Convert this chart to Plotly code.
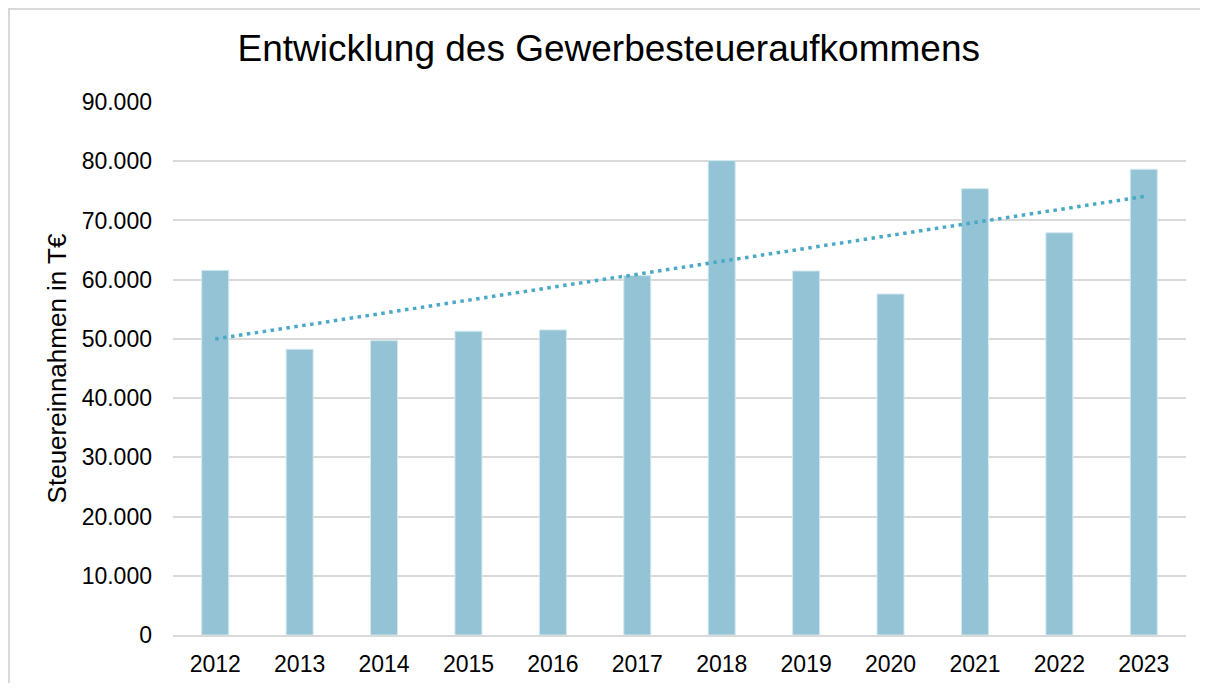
import numpy as np
import plotly.graph_objects as go

years = ["2012", "2013", "2014", "2015", "2016", "2017", "2018", "2019", "2020", "2021", "2022", "2023"]
revenue = [61570, 48260, 49710, 51300, 51520, 60680, 80100, 61470, 57580, 75370, 67920, 78650]
y_ticks = [0, 10000, 20000, 30000, 40000, 50000, 60000, 70000, 80000, 90000]
y_tick_labels = ["0", "10.000", "20.000", "30.000", "40.000", "50.000", "60.000", "70.000", "80.000", "90.000"]

# linear trendline (least squares, as in the spreadsheet trendline)
xi = np.arange(1, len(revenue) + 1)
slope, intercept = np.polyfit(xi, revenue, 1)
trend = list(slope * xi + intercept)

FONT = "Liberation Sans, Arial, sans-serif"
GRID = "#d9d9d9"

# figure is placed by the page with an 8px body margin
W, H = 1192, 675
L, T = 165, 94
PW, PH = 1013, 533
R = W - L - PW
B = H - T - PH

fig = go.Figure()
fig.add_trace(go.Bar(
    x=years, y=revenue,
    marker=dict(color="#93c3d4", line=dict(color="#d4e9f0", width=1)),
    showlegend=False,
))
fig.add_trace(go.Scatter(
    x=years, y=trend, mode="lines",
    line=dict(color="#4aa9c5", width=3.5, dash="3.5px,4.5px"),
    showlegend=False,
))

fig.update_layout(
    width=W, height=H,
    margin=dict(l=L, r=R, t=T, b=B, pad=0, autoexpand=False),
    paper_bgcolor="white", plot_bgcolor="white",
    bargap=0.68,
    font=dict(family=FONT, size=23, color="#000000"),
    title=dict(text="Entwicklung des Gewerbesteueraufkommens",
               font=dict(family=FONT, size=37, color="#000000"),
               x=0.504, xanchor="center", xref="container",
               y=1 - 40 / H, yanchor="middle", yref="container"),
    xaxis=dict(showgrid=False, showline=True, linecolor=GRID, linewidth=2,
               ticks="", tickfont=dict(family=FONT, size=23, color="#000000"),
               ticklabelstandoff=7, fixedrange=True),
    yaxis=dict(range=[0, 90000], tickvals=y_ticks, ticktext=y_tick_labels,
               showgrid=True, gridcolor=GRID, gridwidth=2, zeroline=False,
               showline=False, ticks="", ticklabelstandoff=20,
               tickfont=dict(family=FONT, size=23, color="#000000"),
               title=dict(text="Steuereinnahmen in T€",
                          font=dict(family=FONT, size=26, color="#000000"),
                          standoff=7),
               automargin=False),
    shapes=[
        dict(type="line", xref="paper", yref="paper",
             x0=(0 - L) / PW, x1=(W + 10 - L) / PW,
             y0=(T + PH - 1) / PH, y1=(T + PH - 1) / PH,
             line=dict(color=GRID, width=2)),
        dict(type="line", xref="paper", yref="paper",
             x0=(1 - L) / PW, x1=(1 - L) / PW,
             y0=(T + PH) / PH, y1=(T + PH - H - 10) / PH,
             line=dict(color=GRID, width=2)),
    ],
)

fig.write_html("out.html")
